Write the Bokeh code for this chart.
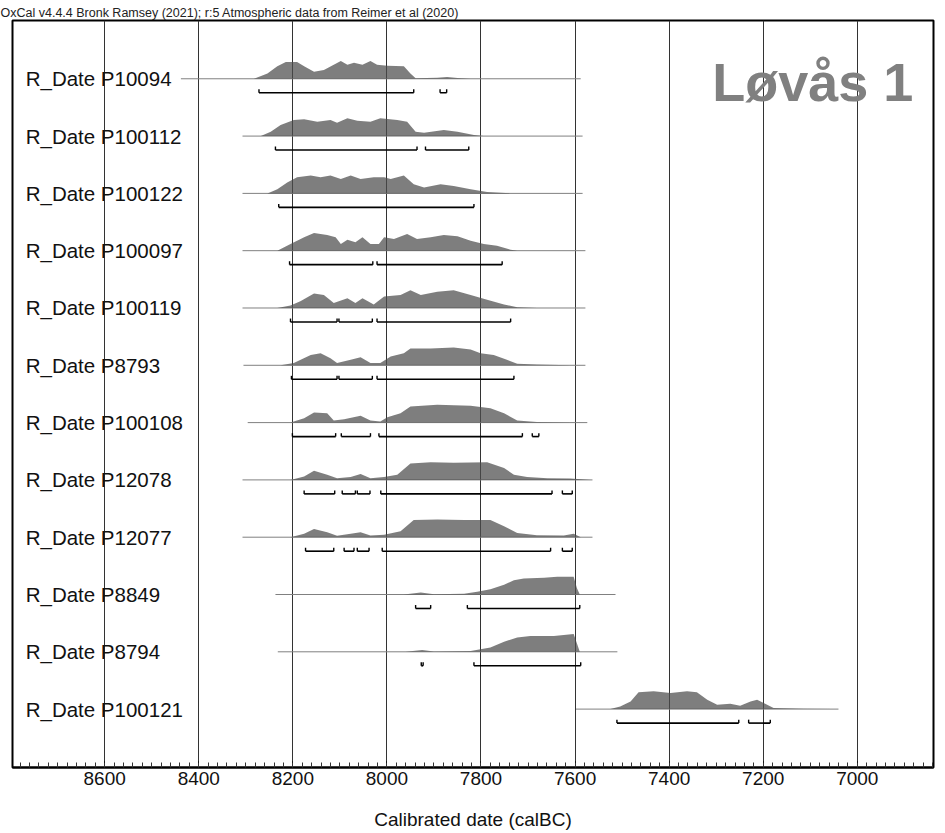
from bokeh.plotting import figure
from bokeh.models import Range1d, FixedTicker, Label
from bokeh.embed import file_html
from bokeh.resources import INLINE
from bokeh.core.properties import value

FONT = "Liberation Sans"

# ---------------- data ----------------
names = ["R_Date P10094", "R_Date P100112", "R_Date P100122", "R_Date P100097",
         "R_Date P100119", "R_Date P8793", "R_Date P100108", "R_Date P12078",
         "R_Date P12077", "R_Date P8849", "R_Date P8794", "R_Date P100121"]

tick_years = [8600, 8400, 8200, 8000, 7800, 7600, 7400, 7200, 7000]
minor_years = list(range(8780, 6839, -20))

r1_yr = [8283, 8254, 8233, 8215, 8191, 8176, 8155, 8134, 8113, 8098, 8084, 8070, 8052, 8035, 8021, 7999, 7964, 7950, 7939, 7893, 7872, 7850, 7822]
r1_p = [0, 5, 11.7, 15.7, 15.7, 11.7, 6.7, 8.3, 13.3, 16.7, 13.3, 15, 13.3, 16.7, 13.3, 12.3, 11.7, 5, 0.5, 1, 1.7, 0.8, 0]

r2_yr = [8268, 8247, 8226, 8198, 8176, 8148, 8120, 8106, 8084, 8063, 8035, 8014, 7978, 7957, 7939, 7921, 7879, 7850, 7815, 7794]
r2_p = [0, 4.3, 11, 16, 16.7, 14.3, 16, 13.3, 17.7, 15.3, 14.3, 17.7, 16, 14.3, 4.3, 3.3, 6, 4.3, 1, 0]

r3_yr = [8254, 8233, 8212, 8191, 8162, 8141, 8120, 8098, 8077, 8056, 8028, 8006, 7992, 7964, 7943, 7921, 7886, 7858, 7822, 7787, 7737]
r3_p = [0, 4, 10.7, 15.7, 17.3, 15.7, 17.3, 14, 17.3, 14, 15.7, 15.7, 14, 17.3, 9, 5.7, 9, 7.3, 4, 1.3, 0]

r4_yr = [8233, 8205, 8176, 8155, 8127, 8109, 8098, 8084, 8067, 8052, 8035, 8017, 8006, 7985, 7957, 7936, 7907, 7879, 7850, 7822, 7794, 7766, 7737, 7723]
r4_p = [0, 6.7, 13.3, 17.7, 15.7, 13.3, 6.7, 11, 8.3, 13.3, 6.7, 6.7, 13.3, 11.7, 16.7, 11.7, 13.3, 15.7, 14.3, 10, 6.7, 5, 1, 0]

r5_yr = [8233, 8205, 8184, 8155, 8134, 8113, 8084, 8067, 8052, 8028, 8006, 7971, 7950, 7928, 7893, 7858, 7822, 7787, 7751, 7723, 7681]
r5_p = [0, 2.7, 7, 15.3, 13.7, 5.3, 10.3, 5.3, 10.3, 3.7, 12, 13.7, 18.7, 13.7, 17, 18.7, 13.7, 8.7, 3.7, 0.7, 0]

r6_yr = [8226, 8198, 8162, 8141, 8120, 8106, 8077, 8056, 8035, 8014, 7992, 7964, 7950, 7907, 7858, 7822, 7801, 7773, 7745, 7723, 7681, 7610]
r6_p = [0, 2.3, 10.7, 12.3, 7.3, 2.3, 5.7, 8.3, 2.3, 2.3, 9, 12.3, 17.3, 17.3, 18.3, 16.3, 12.3, 10.7, 5.7, 1.7, 0.7, 0]

r7_yr = [8205, 8176, 8155, 8127, 8113, 8091, 8056, 8035, 8014, 7999, 7971, 7950, 7893, 7822, 7780, 7751, 7723, 7681, 7610]
r7_p = [0, 4.3, 10, 9.3, 2, 3.3, 6.7, 2, 1, 5.3, 9.3, 16, 17.7, 16.7, 14.3, 9.3, 2, 0.7, 0]

r8_yr = [8205, 8176, 8155, 8127, 8106, 8077, 8056, 8035, 8006, 7978, 7950, 7907, 7858, 7787, 7751, 7730, 7702, 7659, 7610, 7567]
r8_p = [0, 3.3, 9, 5, 1.7, 2.7, 5.7, 1.7, 2.7, 5, 16, 17.3, 16.7, 17.3, 11.7, 5, 2.7, 1.7, 1.3, 0]

r9_yr = [8205, 8176, 8155, 8127, 8106, 8077, 8056, 8035, 8006, 7971, 7943, 7893, 7836, 7780, 7751, 7723, 7681, 7624, 7603, 7588]
r9_p = [0, 3.3, 8, 4.7, 1.3, 3.3, 4.7, 1.7, 2.3, 5.7, 16.7, 17.3, 16.7, 16.7, 10.7, 4, 2, 1.7, 3.3, 0]

r10_yr = [7964, 7928, 7900, 7836, 7808, 7780, 7751, 7730, 7709, 7666, 7638, 7603, 7596, 7590]
r10_p = [0, 2, 0.3, 0.7, 2.7, 5, 9.3, 13.7, 15.3, 16, 17, 17, 6, 0]

r11_yr = [7960, 7925, 7900, 7822, 7780, 7751, 7723, 7695, 7645, 7603, 7596, 7590]
r11_p = [0, 1.7, 0.2, 0.7, 4.3, 10, 14.3, 15.7, 15.7, 17.7, 8.3, 0]

r12_yr = [7525, 7504, 7482, 7465, 7433, 7397, 7362, 7341, 7319, 7298, 7270, 7249, 7227, 7213, 7199, 7178, 7114, 7050]
r12_p = [0, 2.7, 7.7, 16.7, 17.7, 16, 17.7, 16.7, 9.3, 4.3, 5.3, 3.3, 7.7, 9.3, 6, 1, 0.3, 0]

line_start = [8438, 8307, 8307, 8307, 8307, 8305, 8296, 8307, 8307, 8237, 8232, 7598]
line_end = [7588, 7584, 7584, 7578, 7578, 7578, 7574, 7563, 7563, 7514, 7510, 7040]

ranges = [
    [(8272, 7943), (7887, 7873)],
    [(8237, 7936), (7918, 7826)],
    [(8230, 7815)],
    [(8207, 8030), (8021, 7755)],
    [(8205, 8106), (8102, 8031), (8021, 7737)],
    [(8203, 8106), (8102, 8031), (8021, 7730)],
    [(8201, 8109), (8097, 8035), (8017, 7712), (7691, 7677)],
    [(8176, 8111), (8095, 8067), (8063, 8036), (8013, 7649), (7627, 7606)],
    [(8173, 8113), (8091, 8070), (8063, 8038), (8010, 7652), (7627, 7606)],
    [(7939, 7907), (7829, 7590)],
    [(7927, 7923), (7815, 7588)],
    [(7511, 7252), (7231, 7185)],
]

dens_years = [r1_yr, r2_yr, r3_yr, r4_yr, r5_yr, r6_yr, r7_yr, r8_yr, r9_yr, r10_yr, r11_yr, r12_yr]
dens_vals = [r1_p, r2_p, r3_p, r4_p, r5_p, r6_p, r7_p, r8_p, r9_p, r10_p, r11_p, r12_p]

header = "OxCal v4.4.4 Bronk Ramsey (2021); r:5 Atmospheric data from Reimer et al (2020)"
title = "Løvås 1"
xlabel = "Calibrated date (calBC)"

# ---------------- figure ----------------
n = len(names)
base = [n - 1 - i for i in range(n)]

p = figure(width=945, height=833,
           x_range=Range1d(8796, 6838), y_range=Range1d(-1.019, 12.017),
           output_backend="svg", toolbar_location=None, y_axis_location=None,
           min_border_left=12, min_border_right=12, min_border_top=20,
           min_border_bottom=66)
p.outline_line_color = "black"
p.outline_line_width = 2
p.background_fill_color = "white"
p.border_fill_color = "white"

p.title.text = header
p.title.text_font = FONT
p.title.text_font_size = "12.5px"
p.title.text_font_style = "normal"
p.title.text_color = "#222222"
p.title.align = "left"
p.title.offset = -12
p.title.standoff = 1

ax = p.xaxis[0]
ax.ticker = FixedTicker(ticks=tick_years, minor_ticks=minor_years)
ax.axis_line_width = 2
ax.axis_line_color = "black"
ax.major_tick_in = 6
ax.major_tick_out = 0
ax.minor_tick_in = 5
ax.minor_tick_out = 0
ax.major_tick_line_color = "black"
ax.minor_tick_line_color = "#333333"
ax.major_label_text_font = FONT
ax.major_label_text_font_size = "19px"
ax.major_label_text_color = "#111111"
ax.major_label_standoff = 4
ax.axis_label = xlabel
ax.axis_label_text_font = FONT
ax.axis_label_text_font_size = "19px"
ax.axis_label_text_font_style = "normal"
ax.axis_label_text_color = "#111111"
ax.axis_label_standoff = 21

p.xgrid.grid_line_color = "#333333"
p.xgrid.grid_line_width = 1
p.ygrid.visible = False

for i in range(n):
    b = base[i]
    yr = dens_years[i]
    vals = dens_vals[i]
    m = max(vals)
    top = [b + 0.31 * v / m for v in vals]
    p.segment(x0=[line_start[i]], y0=[b], x1=[line_end[i]], y1=[b],
              line_color="#808080", line_width=1)
    p.varea(x=yr, y1=[b] * len(yr), y2=top, fill_color="#4c4c4c", fill_alpha=0.72)
    by = b - 0.244
    x0 = [r[0] for r in ranges[i]]
    x1 = [r[1] for r in ranges[i]]
    p.segment(x0=x0, y0=[by] * len(x0), x1=x1, y1=[by] * len(x0),
              line_color="black", line_width=1.6)
    capx = x0 + x1
    p.segment(x0=capx, y0=[by] * len(capx), x1=capx, y1=[by + 0.06] * len(capx),
              line_color="black", line_width=1.4)

p.text(x=[8768] * n, y=base, text=names, text_font=value(FONT),
       text_font_size="20.5px", text_baseline="middle", text_align="left",
       text_color="#111111")

p.add_layout(Label(x=6881, y=10.94, text=title, text_font=FONT,
                   text_font_size="54px", text_font_style="bold",
                   text_color="#808080", text_align="right",
                   text_baseline="alphabetic"))

open("out.html", "w").write(file_html(p, INLINE))
